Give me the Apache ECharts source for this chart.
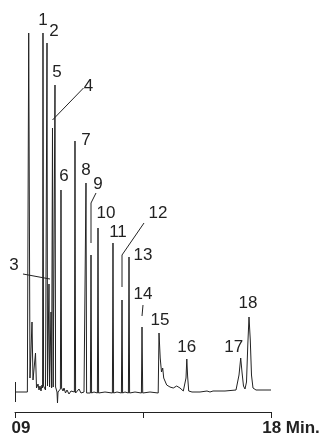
<!DOCTYPE html>
<html>
<head>
<meta charset="utf-8">
<script src="https://cdn.jsdelivr.net/npm/echarts@6/dist/echarts.min.js"></script>
<style>
  html, body { margin: 0; padding: 0; background: #fff; }
  #chart { width: 323px; height: 439px; }
</style>
</head>
<body>
<div id="chart"></div>
<script>
// chromatogram trace: retention time (min) and detector signal
const traceTime = [
  9.000, 9.435, 9.482, 9.527, 9.580, 9.598, 9.633, 9.668, 9.721, 9.756,
  9.809, 9.844, 9.879, 9.914, 9.949, 9.970, 9.984, 10.005, 10.037, 10.072,
  10.111, 10.125, 10.143, 10.178, 10.195, 10.216, 10.241, 10.266, 10.287, 10.318,
  10.343, 10.371, 10.406, 10.427, 10.452, 10.477, 10.494, 10.512, 10.547, 10.596,
  10.617, 10.638, 10.688, 10.723, 10.775, 10.828, 10.898, 10.969, 11.039, 11.088,
  11.109, 11.130, 11.250, 11.320, 11.426, 11.475, 11.496, 11.517, 11.566, 11.651,
  11.672, 11.693, 11.777, 11.897, 11.918, 11.939, 12.164, 12.424, 12.445, 12.466,
  12.586, 12.741, 12.762, 12.783, 12.867, 12.987, 13.008, 13.029, 13.219, 13.444,
  13.465, 13.490, 13.746, 14.034, 14.063, 14.105, 14.150, 14.193, 14.228, 14.333,
  14.449, 14.565, 14.685, 14.801, 14.917, 14.987, 15.012, 15.040, 15.068, 15.107,
  15.223, 15.504, 15.750, 15.855, 15.961, 16.383, 16.770, 16.822, 16.875, 16.935,
  16.980, 17.033, 17.086, 17.139, 17.184, 17.227, 17.272, 17.314, 17.367, 17.473,
  18.000
];
const traceSignal = [
  0, 0, 359, 14, 12, 70, 12, 14, 39, 4,
  8, 2, 6, 1, 7, 4, 359, 6, 8, 2,
  4, 349, 6, 5, 108, 5, 6, 80, 4, 264,
  5, 4, 307, 5, 3, 0, -11, 0, 2, 3,
  202, 4, 1, 4, -1, 2, -2, 1, -1, 0,
  251, -1, 3, -1, 0, -1, 209, -1, 0, -1,
  137, -1, 0, -1, 164, -1, 0, -1, 149, -1,
  0, -1, 92, -1, 0, -1, 135, -1, 0, -1,
  65, -1, 0, -1, 59, 34, 20, 24, 14, 7,
  5, 4, 6, 4, 1, 1, 14, 33, 16, 1,
  0, 0, 1, 0, 1, 1, 2, 4, 17, 34,
  20, 6, 3, 10, 47, 75, 52, 17, 4, 2,
  2
];

// numbered peaks (apex time and signal)
const peakNames = ["1", "2", "3", "4", "5", "6", "7", "8", "9",
  "10", "11", "12", "13", "14", "15", "16", "17", "18"];
const peakTime = [9.984, 10.125, 10.195, 10.318, 10.406, 10.617, 11.109, 11.496, 11.672,
  11.918, 12.445, 12.762, 13.008, 13.465, 14.063, 15.040, 16.935, 17.227];
const peakSignal = [359, 349, 108, 264, 307, 202, 251, 209, 137,
  164, 149, 92, 135, 65, 59, 33, 34, 75];

const tickLabels = { 9: "09", 18: "18 Min." };

// where each number sits relative to its apex (px)
const labelOffset = [
  [0, -13], [7, -12], [-35, -19], [36, -42], [2, -13], [3, -14], [11, -1], [0, -13], [7, -71],
  [8, -15], [5, -11], [36, -87], [14, -2], [1, -33], [1, -13], [0, -12], [-7, -11], [-1, -14]
];
// leader lines, px offsets from the apex
const leaders = {
  2: [[-26, -10], [1, -5]],
  3: [[31, -40], [0, -8]],
  8: [[5, -62], [0, -52], [0, -12]],
  11: [[22, -77], [0, -45], [0, -13]],
  13: [[1, -22], [0, -11]]
};

const ink = "#222";
const font = '"Liberation Sans", Arial, sans-serif';

const chart = echarts.init(document.getElementById("chart"));
chart.setOption({
  animation: false,
  grid: { left: 15, right: 52, top: 32, bottom: 27 },
  xAxis: {
    type: "value",
    min: 9,
    max: 18,
    interval: 4.5,
    axisLine: { onZero: false, lineStyle: { color: ink, width: 1 } },
    axisTick: { length: 6, lineStyle: { color: ink, width: 1 } },
    splitLine: { show: false },
    axisLabel: {
      margin: 8,
      fontSize: 17,
      fontWeight: "bold",
      fontFamily: font,
      color: ink,
      formatter: (v) => {
        if (v === 9) return "{a|" + tickLabels[9] + "}";
        if (v === 18) return "{b|" + tickLabels[18] + "}";
        return "";
      },
      rich: {
        a: { fontSize: 17, fontWeight: "bold", fontFamily: font, color: ink, padding: [0, 0, 0, 12] },
        b: { fontSize: 17, fontWeight: "bold", fontFamily: font, color: ink, padding: [0, 0, 0, 40] }
      }
    }
  },
  yAxis: { type: "value", min: -20, max: 360, show: false },
  series: [
    {
      type: "line",
      data: traceTime.map((t, i) => [t, traceSignal[i]]),
      symbol: "none",
      lineStyle: { color: ink, width: 1 },
      markLine: {
        silent: true,
        symbol: "none",
        label: { show: false },
        lineStyle: { color: ink, width: 1, type: "solid" },
        data: [[{ coord: [9, 10] }, { coord: [9, -10] }]]
      }
    }
  ]
});

// peak numbers and leader lines
const graphics = [];
peakNames.forEach((name, i) => {
  const p = chart.convertToPixel({ gridIndex: 0 }, [peakTime[i], peakSignal[i]]);
  graphics.push({
    type: "text",
    x: p[0] + labelOffset[i][0],
    y: p[1] + labelOffset[i][1],
    style: {
      text: name,
      font: "17px " + font,
      fill: ink,
      textAlign: "center",
      textVerticalAlign: "middle",
      align: "center",
      verticalAlign: "middle"
    }
  });
  if (leaders[i]) {
    graphics.push({
      type: "polyline",
      shape: { points: leaders[i].map((o) => [p[0] + o[0], p[1] + o[1]]) },
      style: { stroke: ink, lineWidth: 1, fill: null }
    });
  }
});
chart.setOption({ graphic: graphics });
</script>
</body>
</html>
